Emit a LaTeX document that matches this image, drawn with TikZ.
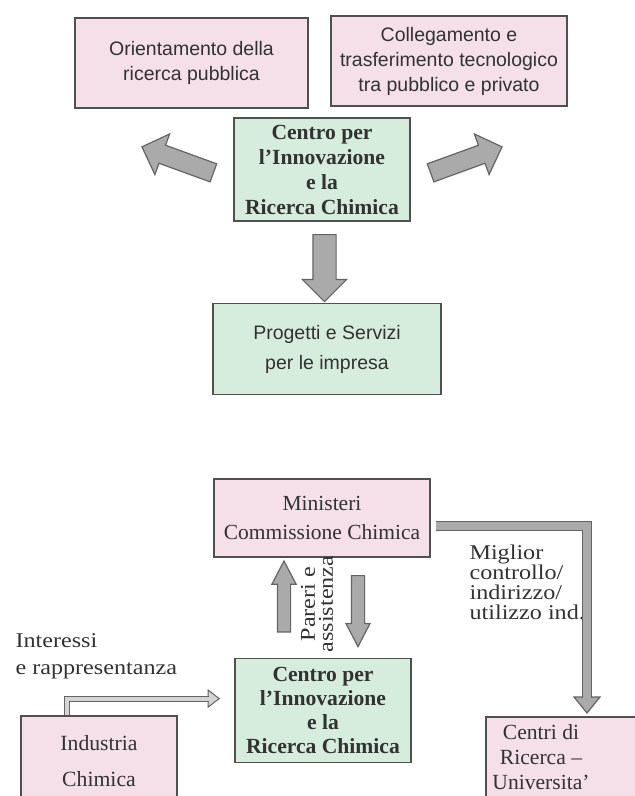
\documentclass[tikz,border=0pt]{standalone}
\usepackage{fontspec}
\setmainfont{Liberation Serif}
\setsansfont{Liberation Sans}
\newfontfamily\widefont{Liberation Serif}[FakeStretch=1.15]
\usetikzlibrary{positioning}
\usetikzlibrary{calc}
\usetikzlibrary{shapes.arrows}
\definecolor{boxpink}{RGB}{245,223,232}
\definecolor{boxgreen}{RGB}{214,236,221}
\definecolor{boxedge}{RGB}{80,80,80}
\definecolor{arrowfill}{RGB}{170,170,170}
\definecolor{arrowedge}{RGB}{100,100,100}
\definecolor{inktext}{RGB}{50,50,50}
\tikzstyle{pinkbox}=[draw=boxedge,fill=boxpink,line width=1.6pt,inner sep=0pt,align=center,text=inktext]
\tikzstyle{greenbox}=[draw=boxedge,fill=boxgreen,line width=1.6pt,inner sep=0pt,align=center,text=inktext]
\tikzstyle{sanslabel}=[font=\sffamily\fontsize{19.5}{25}\selectfont]
\tikzstyle{seriflabel}=[font=\fontsize{21.6}{25}\selectfont]
\tikzstyle{boldlabel}=[font=\bfseries\fontsize{21.6}{25}\selectfont]
\tikzstyle{widelabel}=[font=\widefont\fontsize{21}{27}\selectfont,text=inktext]
\tikzstyle{blockarrow}=[single arrow,draw=arrowedge,fill=arrowfill,line width=1.2pt,inner xsep=0pt,inner ysep=9pt,minimum height=76pt,minimum width=42pt,single arrow head extend=12pt]
\tikzstyle{thinarrow}=[blockarrow,minimum height=71pt,minimum width=23pt,inner ysep=6pt,single arrow head extend=5.5pt,single arrow tip angle=55]
\tikzstyle{bigband}=[draw=arrowedge,line width=1.3pt,double=arrowfill,double distance=7.5pt]
\tikzstyle{smallband}=[draw=arrowedge,line width=1pt,double=arrowfill!50,double distance=4pt]
\tikzstyle{bandhead}=[draw=arrowedge,fill=arrowfill,line width=1.2pt]

\begin{document}
\begin{tikzpicture}[x=1pt,y=-1pt]
\path[use as bounding box,clip] (0,0) rectangle (635,796);
\fill[white] (0,0) rectangle (635,796);

\node (ctop) [greenbox,boldlabel,minimum width=176pt,minimum height=103pt] at (322,169.5) {Centro per\\l'Innovazione\\e la\\Ricerca Chimica};
\node (orient) [pinkbox,sanslabel,minimum width=233pt,minimum height=90pt] at (191.5,63) {Orientamento della\\ricerca pubblica};
\node (colleg) [pinkbox,sanslabel,minimum width=236pt,minimum height=90pt] at (449,61) {Collegamento e\\trasferimento tecnologico\\tra pubblico e privato};
\node (prog) [greenbox,font=\sffamily\fontsize{19.5}{30}\selectfont,minimum width=228pt,minimum height=91pt,below=81pt of ctop,xshift=5pt] {Progetti e Servizi\\per le impresa};

\node (aleft) [blockarrow,rotate=160] at ($(ctop.west)+(-51,-8)$) {};
\node (aright) [blockarrow,rotate=20] at ($(ctop.east)+(51,-8)$) {};
\node (adown) [blockarrow,rotate=-90,minimum height=67pt,minimum width=43pt,inner ysep=11pt,single arrow head extend=10.5pt] at ($(ctop.south)!0.5!(prog.north)$) {};

\node (min) [pinkbox,font=\fontsize{21.5}{29}\selectfont,minimum width=216pt,minimum height=78pt] at (322,518) {Ministeri\\Commissione Chimica};
\node (cbot) [greenbox,font=\bfseries\fontsize{21.6}{24}\selectfont,minimum width=176pt,minimum height=104pt,below=100pt of min,xshift=1pt] {Centro per\\l'Innovazione\\e la\\Ricerca Chimica};
\node (ind) [pinkbox,font=\fontsize{21.7}{36}\selectfont,minimum width=156pt,minimum height=90pt,anchor=north] at (99,715) {Industria\\Chimica};
\node (centri) [pinkbox,minimum width=180pt,minimum height=90pt,anchor=north west] at (485,716) {};
\node (centritxt) [seriflabel,align=center,text=inktext] at ($(centri.north west)+(56,41)$) {Centri di\\Ricerca --\\Universita'};

\node (aup) [thinarrow,rotate=90] at ($(min.south)+(-38,45)$) {};
\node (adn) [thinarrow,rotate=-90] at ($(cbot.north)+(35,-53)$) {};
\node (pareri) [widelabel,font=\widefont\fontsize{21}{18}\selectfont,rotate=90,align=center] at (317,604) {Pareri e\\assistenza};

\node (interessi) [widelabel,anchor=north west,align=left] at (12,630) {Interessi\\e rappresentanza};
\node (miglior) [widelabel,font=\widefont\fontsize{21}{20}\selectfont,anchor=north west,align=left] at (466,541) {Miglior\\controllo/\\indirizzo/\\utilizzo ind.};

\coordinate (mtip) at (587,713);
\path (min.east) ++(5,8) coordinate (mstart);
\filldraw[bandhead] ($(mtip)+(-13,-16)$) -- (mtip) -- ($(mtip)+(13,-16)$) -- cycle;
\draw[bigband] (mstart) -| ($(mtip)+(0,-15)$);

\coordinate (itip) at ($(cbot.west)+(-15,-12)$);
\filldraw[bandhead,fill=arrowfill!50,line width=1pt] ($(itip)+(-11,-8.5)$) -- (itip) -- ($(itip)+(-11,8.5)$) -- cycle;
\draw[smallband] ($(ind.north west)+(47,0)$) |- ($(itip)+(-10,0)$);
\end{tikzpicture}
\end{document}
